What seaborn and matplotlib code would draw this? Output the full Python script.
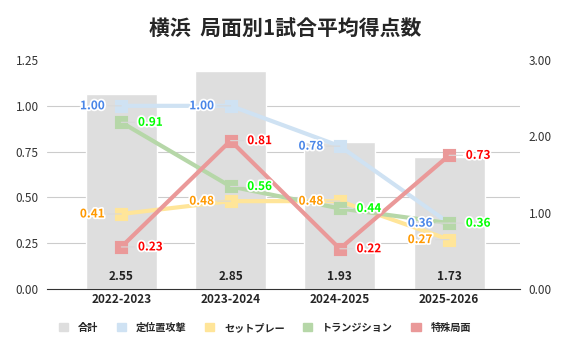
import matplotlib
matplotlib.use('Agg')

import pandas as pd
import numpy as np
import matplotlib.pyplot as plt
import matplotlib.patheffects as pe
from matplotlib.patches import Patch
import seaborn as sns

seasons = ['2022-2023', '2023-2024', '2024-2025', '2025-2026']
total = [2.55, 2.85, 1.93, 1.73]
set_attack = [1.00, 1.00, 0.78, 0.36]
set_play = [0.41, 0.48, 0.48, 0.27]
transition = [0.91, 0.56, 0.44, 0.36]
special = [0.23, 0.81, 0.22, 0.73]

series_names = ['定位置攻撃', 'セットプレー', 'トランジション', '特殊局面']
series_vals = [set_attack, set_play, transition, special]
line_colors = ['#cfe2f3', '#ffe599', '#b6d7a8', '#ea9999']
label_colors = ['#4a86e8', '#ff9900', '#00ff00', '#ff0000']
label_side = ['left', 'left', 'right', 'right']
bar_color = '#dedede'

sns.set_style('white')
plt.rcParams['font.family'] = ['Noto Sans CJK JP', 'DejaVu Sans']

fig = plt.figure(figsize=(5.7, 3.53), dpi=100)
ax = fig.add_axes([0.0825, 0.181, 0.83, 0.649])

df = pd.DataFrame({'season': seasons, 'total': total})
sns.barplot(data=df, x='season', y='total', color=bar_color, width=0.65,
            saturation=1, ax=ax, zorder=2)
ax.set_xlabel('')
ax.set_ylabel('')
for i, v in enumerate(total):
    ax.text(i, 0.16, f'{v:.2f}', ha='center', va='center', fontsize=8.5,
            fontweight='bold', color='#222222', zorder=3)

ax2 = ax.twinx()
for name, vals, lc, tc, side in zip(series_names, series_vals, line_colors,
                                    label_colors, label_side):
    sns.pointplot(x=seasons, y=vals, color=lc, markers='s', linestyles='-',
                  linewidth=3, markersize=6.5, ax=ax2)
    for i, v in enumerate(vals):
        off = -12 if side == 'left' else 12
        ax2.annotate(f'{v:.2f}', (i, v), xytext=(off, 0), textcoords='offset points',
                     ha='right' if side == 'left' else 'left', va='center',
                     fontsize=8.5, fontweight='bold', color=tc,
                     arrowprops=dict(arrowstyle='-', color='#d9d9d9', lw=0.8,
                                     shrinkA=0, shrinkB=0),
                     path_effects=[pe.withStroke(linewidth=2.5, foreground='white')])

# bars use the right axis, lines the left
ax.set_ylim(0, 3)
ax.yaxis.tick_right()
ax.set_yticks([0, 1, 2, 3])
ax.set_yticklabels([f'{v:.2f}' for v in [0, 1, 2, 3]])
ax.set_yticks(np.arange(0, 3.01, 0.6), minor=True)
ax.grid(True, which='minor', axis='y', color='#cccccc', lw=0.8, zorder=0)
ax.tick_params(axis='y', which='both', length=0, labelsize=8.5, colors='#333333', pad=6)

ax2.set_ylim(0, 1.25)
ax2.yaxis.tick_left()
ax2.set_yticks(np.arange(0, 1.26, 0.25))
ax2.set_yticklabels([f'{v:.2f}' for v in np.arange(0, 1.26, 0.25)])
ax2.tick_params(axis='y', length=0, labelsize=8.5, colors='#333333', pad=6)
ax2.set_ylabel('')
ax2.set_xlim(-0.68, 3.65)
ax.set_xlim(-0.68, 3.65)

for a in (ax, ax2):
    for s in ['top', 'left', 'right']:
        a.spines[s].set_visible(False)
    a.spines['bottom'].set_color('#333333')
ax2.spines['bottom'].set_visible(False)
ax.tick_params(axis='x', length=0, labelsize=8.5, pad=3)
for t in ax.get_xticklabels():
    t.set_fontweight('bold')
ax2.tick_params(axis='x', length=0, labelbottom=False)

fig.suptitle('横浜  局面別1試合平均得点数', x=0.5, y=0.945, fontsize=15, fontweight='bold')

handles = [Patch(color=bar_color, label='合計')]
handles += [Patch(color=c, label=n) for n, c in zip(series_names, line_colors)]
fig.legend(handles=handles, loc='center', bbox_to_anchor=(0.465, 0.072), ncol=5,
           frameon=False, handlelength=0.9, handleheight=0.9,
           columnspacing=1.8, handletextpad=1.0, prop={'weight': 'bold', 'size': 7.3})

fig.savefig('out.png', dpi=100)
